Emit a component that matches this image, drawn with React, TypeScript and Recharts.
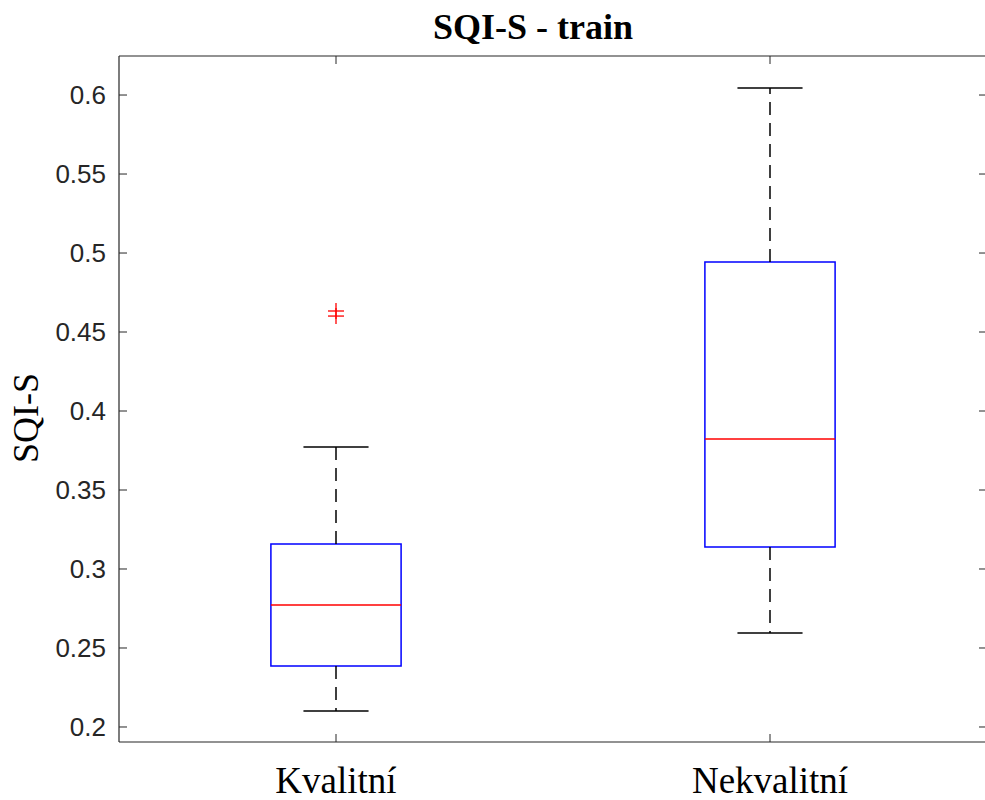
import React from 'react';
import {
  ComposedChart,
  XAxis,
  YAxis,
  Scatter,
  ReferenceArea,
  ReferenceLine
} from 'recharts';

const categories = ['Kvalitní', 'Nekvalitní'];
const positions = [1, 2];
const whiskerLow = [0.2101, 0.2595];
const q1 = [0.2386, 0.3139];
const median = [0.2772, 0.3823];
const q3 = [0.3158, 0.4943];
const whiskerHigh = [0.3772, 0.6044];
const outlierPos = [1, 1];
const outlierValues = [0.4633, 0.4601];
const yTicks = [0.2, 0.25, 0.3, 0.35, 0.4, 0.45, 0.5, 0.55, 0.6];

const AXIS = '#262626';
const BOX_HALF = 0.15;
const CAP_HALF = 0.075;

const outliers = outlierPos.map((x, i) => ({ x, y: outlierValues[i] }));

const LeftTick = (props: any) => {
  const { x, y, payload } = props;
  const ax = x + 13;
  return (
    <g>
      <line x1={ax} x2={ax + 8} y1={y} y2={y} stroke={AXIS} strokeWidth={1} />
      <text x={x} y={y + 9} textAnchor="end" fill={AXIS}
        style={{ fontFamily: '"Liberation Sans", Arial, sans-serif', fontSize: 26 }}>
        {payload.value}
      </text>
    </g>
  );
};

const RightTick = (props: any) => {
  const { x, y } = props;
  return <line x1={x - 8} x2={x} y1={y} y2={y} stroke={AXIS} strokeWidth={1} />;
};

const BottomTick = (props: any) => {
  const { x, y, payload } = props;
  return (
    <g>
      <line x1={x} x2={x} y1={y} y2={y - 8} stroke={AXIS} strokeWidth={1} />
      <text x={x} y={y + 51} textAnchor="middle" fill="#000"
        style={{ fontFamily: '"Liberation Serif", "Times New Roman", serif', fontSize: 37 }}>
        {categories[payload.value - 1]}
      </text>
    </g>
  );
};

const TopTick = (props: any) => {
  const { x, y } = props;
  return <line x1={x} x2={x} y1={y} y2={y + 8} stroke={AXIS} strokeWidth={1} />;
};

const Plus = (props: any) => {
  const { cx, cy } = props;
  return (
    <g stroke="#FF0000" strokeWidth={1.3}>
      <line x1={cx - 8} x2={cx + 8} y1={cy} y2={cy} />
      <line x1={cx} x2={cx} y1={cy - 8} y2={cy + 8} />
    </g>
  );
};

const Nothing = () => <g />;

export default function App() {
  return (
    <div style={{ position: 'absolute', left: 0, top: 0, width: 985, height: 800, overflow: 'hidden', background: '#fff' }}>
      <ComposedChart width={990} height={800} margin={{ top: 55, right: 2, bottom: 0, left: 0 }}>
        <XAxis xAxisId={0} type="number" dataKey="x" domain={[0.5, 2.5]} ticks={positions}
          allowDataOverflow orientation="bottom" height={58} interval={0}
          tickSize={0} tickMargin={0} tick={<BottomTick />}
          axisLine={{ stroke: AXIS, strokeWidth: 1.2 }} />
        <XAxis xAxisId="top" type="number" dataKey="x" domain={[0.5, 2.5]} ticks={positions}
          allowDataOverflow orientation="top" height={1} interval={0}
          tickSize={0} tickMargin={0} tick={<TopTick />}
          axisLine={{ stroke: AXIS, strokeWidth: 1.2 }} />
        <YAxis yAxisId={0} type="number" dataKey="y" domain={[0.1905, 0.6247]} ticks={yTicks}
          allowDataOverflow orientation="left" width={119} interval={0}
          tickSize={0} tickMargin={13} tick={<LeftTick />}
          axisLine={{ stroke: AXIS, strokeWidth: 1.2 }} />
        <YAxis yAxisId="right" type="number" dataKey="y" domain={[0.1905, 0.6247]} ticks={yTicks}
          allowDataOverflow orientation="right" width={1} interval={0}
          tickSize={0} tickMargin={0} tick={<RightTick />}
          axisLine={{ stroke: AXIS, strokeWidth: 1.2 }} />

        {positions.map((p, i) => (
          <ReferenceLine key={`wu${i}`} segment={[{ x: p, y: q3[i] }, { x: p, y: whiskerHigh[i] }]}
            stroke="#000" strokeWidth={1.5} strokeDasharray="13 8" />
        ))}
        {positions.map((p, i) => (
          <ReferenceLine key={`wl${i}`} segment={[{ x: p, y: q1[i] }, { x: p, y: whiskerLow[i] }]}
            stroke="#000" strokeWidth={1.5} strokeDasharray="13 8" />
        ))}
        {positions.map((p, i) => (
          <ReferenceLine key={`cu${i}`} segment={[{ x: p - CAP_HALF, y: whiskerHigh[i] }, { x: p + CAP_HALF, y: whiskerHigh[i] }]}
            stroke="#000" strokeWidth={1.5} />
        ))}
        {positions.map((p, i) => (
          <ReferenceLine key={`cl${i}`} segment={[{ x: p - CAP_HALF, y: whiskerLow[i] }, { x: p + CAP_HALF, y: whiskerLow[i] }]}
            stroke="#000" strokeWidth={1.5} />
        ))}
        {positions.map((p, i) => (
          <ReferenceArea key={`b${i}`} x1={p - BOX_HALF} x2={p + BOX_HALF} y1={q1[i]} y2={q3[i]}
            fill="#fff" fillOpacity={1} stroke="#0000FF" strokeWidth={1.5} strokeOpacity={1} />
        ))}
        {positions.map((p, i) => (
          <ReferenceLine key={`m${i}`} segment={[{ x: p - BOX_HALF, y: median[i] }, { x: p + BOX_HALF, y: median[i] }]}
            stroke="#FF0000" strokeWidth={1.5} />
        ))}
        <Scatter data={outliers} dataKey="y" shape={<Plus />} isAnimationActive={false} />
        <Scatter xAxisId="top" yAxisId="right" data={outliers} dataKey="y" shape={<Nothing />} isAnimationActive={false} />
      </ComposedChart>
      <svg width={985} height={800} style={{ position: 'absolute', left: 0, top: 0, pointerEvents: 'none' }}>
        <text x={533} y={39} textAnchor="middle" fill="#000"
          style={{ fontFamily: '"Liberation Serif", "Times New Roman", serif', fontSize: 36, fontWeight: 'bold' }}>
          SQI-S - train
        </text>
        <text x={38} y={418} textAnchor="middle" fill="#000" transform="rotate(-90, 38, 418)"
          style={{ fontFamily: '"Liberation Serif", "Times New Roman", serif', fontSize: 36 }}>
          SQI-S
        </text>
      </svg>
    </div>
  );
}
